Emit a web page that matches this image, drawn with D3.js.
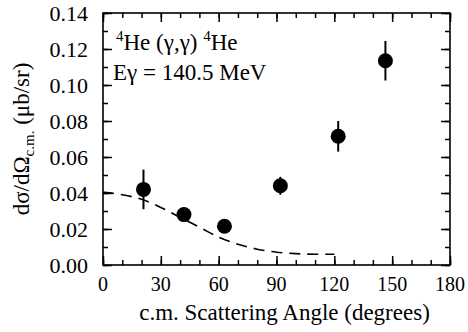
<!DOCTYPE html>
<html>
<head>
<meta charset="utf-8">
<script src="https://cdn.jsdelivr.net/npm/d3@7"></script>
<style>
  html, body { margin: 0; padding: 0; background: #fff; overflow: hidden; }
  svg { display: block; }
  .axis path.domain { display: none; }
  .axis line { stroke: #000; stroke-width: 1.5; }
</style>
</head>
<body>
<div id="chart"></div>
<script>
// measured points (c.m. angle in degrees, cross section in ub/sr)
var angles = [21, 42, 63, 92, 122, 146.5];
var xsec = [0.042, 0.028, 0.0215, 0.044, 0.0715, 0.1135];
var xsecErr = [0.011, 0.002, 0.002, 0.005, 0.0085, 0.011];

// dashed theory curve
var curveAngles = [0, 10, 20, 30, 40, 50, 60, 70, 80, 90, 100, 110, 120];
var curveXsec = [0.0405, 0.039, 0.0365, 0.032, 0.0265, 0.021, 0.0155, 0.0115, 0.0088, 0.0071, 0.0063, 0.006, 0.006];

// tick values
var xMajor = [0, 30, 60, 90, 120, 150, 180];
var xMinor = d3.range(0, 181, 10);
var yMajor = [0, 0.02, 0.04, 0.06, 0.08, 0.1, 0.12, 0.14];
var yMinor = d3.range(0, 0.1401, 0.01);

var serif = "'Liberation Serif', 'DejaVu Serif', serif";

var outerWidth = 468;
var outerHeight = 332;
var margin = {top: 13, right: 18, bottom: 67, left: 103};
var innerWidth = outerWidth - (margin.left + margin.right);
var innerHeight = outerHeight - (margin.top + margin.bottom);

var svg = d3.select("#chart")
	.append("svg")
	.attr("width", outerWidth)
	.attr("height", outerHeight)
	.attr("font-family", serif)
	.append("g")
	.attr("transform", "translate(" + margin.left + "," + margin.top + ")");

var xScale = d3.scaleLinear().domain([0, 180]).range([0, innerWidth]);
var yScale = d3.scaleLinear().domain([0, 0.14]).range([innerHeight, 0]);

//inward ticks on all four sides
function tickAxis(axisFn, scale, values, size, transform) {
	var g = svg.append("g")
		.attr("class", "axis")
		.attr("transform", transform)
		.call(axisFn(scale).tickValues(values).tickSize(size));
	g.selectAll("text").remove();
}
tickAxis(d3.axisBottom, xScale, xMinor, -5, "translate(0," + innerHeight + ")");
tickAxis(d3.axisBottom, xScale, xMajor, -9, "translate(0," + innerHeight + ")");
tickAxis(d3.axisTop, xScale, xMinor, -5, "translate(0,0)");
tickAxis(d3.axisTop, xScale, xMajor, -9, "translate(0,0)");
tickAxis(d3.axisLeft, yScale, yMinor, -5, "translate(0,0)");
tickAxis(d3.axisLeft, yScale, yMajor, -9, "translate(0,0)");
tickAxis(d3.axisRight, yScale, yMinor, -5, "translate(" + innerWidth + ",0)");
tickAxis(d3.axisRight, yScale, yMajor, -9, "translate(" + innerWidth + ",0)");

//tick labels
svg.selectAll(".xlab")
	.data(xMajor)
	.enter()
	.append("text")
	.attr("class", "xlab")
	.attr("x", function(d) { return xScale(d); })
	.attr("y", innerHeight + 26)
	.attr("text-anchor", "middle")
	.style("font-family", serif)
	.style("font-size", "20px")
	.text(function(d) { return d; });

svg.selectAll(".ylab")
	.data(yMajor)
	.enter()
	.append("text")
	.attr("class", "ylab")
	.attr("x", -15)
	.attr("y", function(d) { return yScale(d) + 8; })
	.attr("text-anchor", "end")
	.style("font-family", serif)
	.style("font-size", "22px")
	.text(function(d) { return d3.format(".2f")(d); });

//frame
svg.append("rect")
	.attr("width", innerWidth)
	.attr("height", innerHeight)
	.attr("fill", "none")
	.attr("stroke", "#000")
	.attr("stroke-width", 1.6);

//axis titles
svg.append("text")
	.attr("x", innerWidth / 2 + 8)
	.attr("y", innerHeight + 55)
	.attr("text-anchor", "middle")
	.style("font-family", serif)
	.style("font-size", "23px")
	.text("c.m. Scattering Angle (degrees)");

var ytitle = svg.append("text")
	.attr("transform", "translate(" + (29 - margin.left) + "," + (innerHeight / 2) + ") rotate(-90)")
	.attr("text-anchor", "middle")
	.style("font-family", serif)
	.style("font-size", "23px");
ytitle.append("tspan").text("dσ/dΩ");
ytitle.append("tspan").attr("dy", 5).style("font-size", "15px").text("c.m.");
ytitle.append("tspan").attr("dy", -5).text(" (μb/sr)");

//reaction label
var lab1 = svg.append("text").attr("x", 13).attr("y", 37)
	.style("font-family", serif).style("font-size", "23px");
lab1.append("tspan").attr("dy", -9).style("font-size", "15px").text("4");
lab1.append("tspan").attr("dy", 9).text("He (γ,γ) ");
lab1.append("tspan").attr("dy", -9).style("font-size", "15px").text("4");
lab1.append("tspan").attr("dy", 9).text("He");

svg.append("text")
	.attr("x", 10)
	.attr("y", 67)
	.style("font-family", serif)
	.style("font-size", "23px")
	.text("Eγ = 140.5 MeV");

//dashed curve
var line = d3.line()
	.x(function(d, i) { return xScale(curveAngles[i]); })
	.y(function(d) { return yScale(d); })
	.curve(d3.curveMonotoneX);

svg.append("path")
	.datum(curveXsec)
	.attr("fill", "none")
	.attr("stroke", "#000")
	.attr("stroke-width", 1.6)
	.attr("stroke-dasharray", "11,7")
	.attr("d", line);

//error bars
svg.selectAll(".err")
	.data(xsec)
	.enter()
	.append("line")
	.attr("class", "err")
	.attr("x1", function(d, i) { return xScale(angles[i]); })
	.attr("x2", function(d, i) { return xScale(angles[i]); })
	.attr("y1", function(d, i) { return yScale(d - xsecErr[i]); })
	.attr("y2", function(d, i) { return yScale(d + xsecErr[i]); })
	.attr("stroke", "#000")
	.attr("stroke-width", 2);

svg.selectAll(".point")
	.data(xsec)
	.enter()
	.append("circle")
	.attr("class", "point")
	.attr("cx", function(d, i) { return xScale(angles[i]); })
	.attr("cy", function(d) { return yScale(d); })
	.attr("r", 7.5)
	.attr("fill", "#000");
</script>
</body>
</html>
